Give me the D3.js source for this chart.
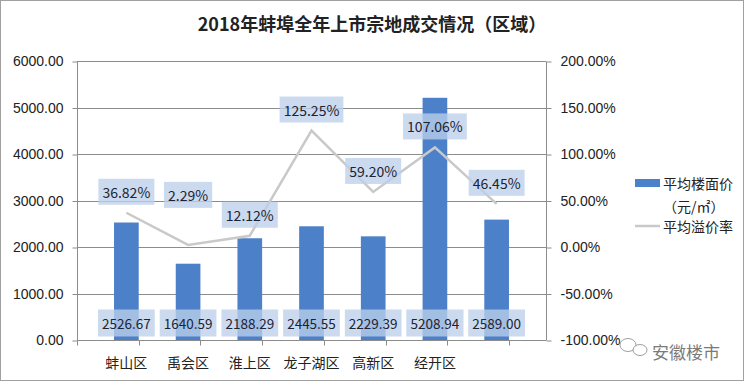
<!DOCTYPE html>
<html>
<head>
<meta charset="utf-8">
<script src="https://cdn.jsdelivr.net/npm/d3@7"></script>
<style>
  body { margin: 0; background: #fff; }
  svg { display: block; font-family: "Noto Sans CJK SC", "Noto Sans", sans-serif; }
</style>
</head>
<body>
<div id="chart"></div>
<script>
(function () {
  'use strict';

  // data
  var districts = ["蚌山区", "禹会区", "淮上区", "龙子湖区", "高新区", "经开区", "其他"];
  var districtLabels = ["蚌山区", "禹会区", "淮上区", "龙子湖区", "高新区", "经开区", ""];
  var avgPrice = [2526.67, 1640.59, 2188.29, 2445.55, 2229.39, 5208.94, 2589.00];
  var avgPremium = [36.82, 2.29, 12.12, 125.25, 59.20, 107.06, 46.45];
  var leftTicks = [0, 1000, 2000, 3000, 4000, 5000, 6000];
  var rightTicks = [-100, -50, 0, 50, 100, 150, 200];

  var width = 744, height = 381;
  var left = 77, right = 546, top = 61, bottom = 340;

  var svg = d3.select("#chart").append("svg")
    .attr("width", width)
    .attr("height", height);

  svg.append("rect")
    .attr("x", 0.5).attr("y", 0.5)
    .attr("width", width - 1).attr("height", height - 1)
    .attr("fill", "#fff")
    .attr("stroke", "#a0a0a0");

  var x = d3.scaleBand().domain(districts).range([left, right]).padding(0.6);
  var y = d3.scaleLinear().domain([0, 6000]).range([bottom, top]);
  var y2 = d3.scaleLinear().domain([-100, 200]).range([bottom, top]);
  var cx = function (d) { return x(d) + x.bandwidth() / 2; };

  // title
  svg.append("text")
    .attr("x", 372).attr("y", 31)
    .attr("text-anchor", "middle")
    .attr("font-size", 18)
    .attr("font-weight", "bold")
    .attr("fill", "#222")
    .text("2018年蚌埠全年上市宗地成交情况（区域）");

  // gridlines
  svg.append("g")
    .selectAll("line")
    .data(leftTicks).enter()
    .append("line")
    .attr("x1", left).attr("x2", right)
    .attr("y1", function (d) { return Math.round(y(d)) + 0.5; })
    .attr("y2", function (d) { return Math.round(y(d)) + 0.5; })
    .attr("stroke", "#8c8c8c");

  // left axis
  var yAxis = svg.append("g")
    .attr("transform", "translate(" + (left + 0.5) + ",0.5)")
    .call(d3.axisLeft(y).tickValues(leftTicks).tickSize(5).tickPadding(9)
      .tickFormat(function (d) { return d.toFixed(2); }));
  yAxis.select(".domain").attr("stroke", "#8c8c8c").attr("d", "M0," + top + "V" + bottom);
  yAxis.selectAll("line").attr("stroke", "#8c8c8c");
  yAxis.selectAll("text").attr("font-size", 14).attr("fill", "#222").attr("font-family", "inherit");

  // right axis
  var y2Axis = svg.append("g")
    .attr("transform", "translate(" + (right + 0.5) + ",0.5)")
    .call(d3.axisRight(y2).tickValues(rightTicks).tickSize(5).tickPadding(9)
      .tickFormat(function (d) { return d.toFixed(2) + "%"; }));
  y2Axis.select(".domain").attr("stroke", "#8c8c8c").attr("d", "M0," + top + "V" + bottom);
  y2Axis.selectAll("line").attr("stroke", "#8c8c8c");
  y2Axis.selectAll("text").attr("font-size", 14).attr("fill", "#222").attr("font-family", "inherit");

  // x axis
  var xg = svg.append("g").attr("transform", "translate(0," + (bottom + 0.5) + ")");
  xg.append("line").attr("x1", left).attr("x2", right).attr("stroke", "#8c8c8c");
  var step = x.step();
  xg.selectAll(".tk")
    .data(d3.range(districts.length + 1)).enter()
    .append("line")
    .attr("x1", function (i) { return Math.round(left + i * step) + 0.5; })
    .attr("x2", function (i) { return Math.round(left + i * step) + 0.5; })
    .attr("y1", 0).attr("y2", 5)
    .attr("stroke", "#8c8c8c");
  xg.selectAll(".lbl")
    .data(districts).enter()
    .append("text")
    .attr("x", cx)
    .attr("y", 27)
    .attr("text-anchor", "middle")
    .attr("font-size", 14)
    .attr("fill", "#222")
    .text(function (d, i) { return districtLabels[i]; });

  // bars
  svg.append("g")
    .selectAll("rect")
    .data(districts).enter()
    .append("rect")
    .attr("x", function (d) { return x(d); })
    .attr("width", x.bandwidth())
    .attr("y", function (d, i) { return y(avgPrice[i]); })
    .attr("height", function (d, i) { return bottom - y(avgPrice[i]); })
    .attr("fill", "#4c80c8");

  // line
  var line = d3.line()
    .x(function (d) { return cx(d); })
    .y(function (d, i) { return y2(avgPremium[i]); });
  svg.append("path")
    .datum(districts)
    .attr("d", line)
    .attr("fill", "none")
    .attr("stroke", "#c9c9c9")
    .attr("stroke-width", 2.5);

  function boxLabel(g, px, py, txt, h, fs) {
    var t = g.append("text")
      .attr("x", px).attr("y", py)
      .attr("text-anchor", "middle")
      .attr("dominant-baseline", "central")
      .attr("font-size", fs)
      .attr("fill", "#1c2333")
      .text(txt);
    var bb = t.node().getBBox();
    g.insert("rect", "text")
      .attr("x", px - bb.width / 2 - 4)
      .attr("y", py - h / 2)
      .attr("width", bb.width + 8)
      .attr("height", h)
      .attr("fill", "#bccfea")
      .attr("fill-opacity", 0.78);
  }

  // bar value labels
  districts.forEach(function (d, i) {
    var g = svg.append("g");
    boxLabel(g, cx(d), 323, avgPrice[i].toFixed(2), 27, 13.5);
  });

  // line value labels (禹会区 label was lifted in the source)
  districts.forEach(function (d, i) {
    var g = svg.append("g");
    var lift = d === "禹会区" ? 50 : 21;
    boxLabel(g, cx(d), y2(avgPremium[i]) - lift, avgPremium[i].toFixed(2) + "%", 26, 14);
  });

  // legend
  var lg = svg.append("g").attr("font-size", 14).attr("fill", "#222");
  lg.append("rect").attr("x", 635).attr("y", 179).attr("width", 25).attr("height", 8).attr("fill", "#4c80c8");
  lg.append("text").attr("x", 663).attr("y", 183).attr("dominant-baseline", "central").text("平均楼面价");
  lg.append("text").attr("x", 663).attr("y", 206).attr("dominant-baseline", "central").text("（元/㎡）");
  lg.append("line").attr("x1", 635).attr("x2", 660).attr("y1", 226).attr("y2", 226)
    .attr("stroke", "#c9c9c9").attr("stroke-width", 2.5);
  lg.append("text").attr("x", 663).attr("y", 226).attr("dominant-baseline", "central").text("平均溢价率");

  // watermark
  var wm = svg.append("g").attr("fill", "none").attr("stroke", "#888").attr("stroke-width", 0.8);
  wm.append("ellipse").attr("cx", 628).attr("cy", 345).attr("rx", 8).attr("ry", 6.5);
  wm.append("ellipse").attr("cx", 640).attr("cy", 350).attr("rx", 7).attr("ry", 5.5).attr("fill", "#fff");
  svg.append("text")
    .attr("x", 652).attr("y", 351)
    .attr("dominant-baseline", "central")
    .attr("font-size", 17)
    .attr("fill", "#7a7a7a")
    .text("安徽楼市");
})();
</script>
</body>
</html>
